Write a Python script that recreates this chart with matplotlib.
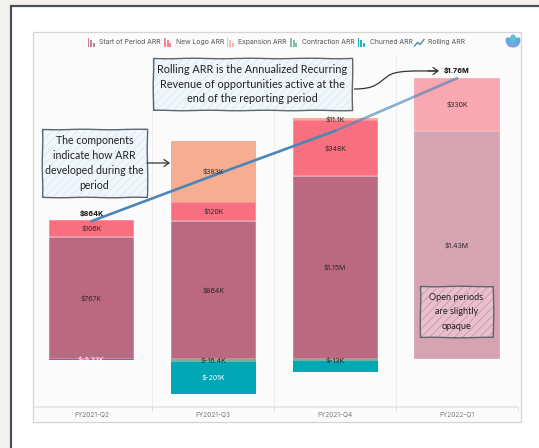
import matplotlib
matplotlib.use("Agg")
import matplotlib.pyplot as plt
from matplotlib.patches import Rectangle, Ellipse, FancyArrowPatch
from matplotlib.path import Path
from matplotlib.patches import PathPatch

W, H = 539, 448

# values in $K
periods = ["FY2021-Q2", "FY2021-Q3", "FY2021-Q4", "FY2022-Q1"]
start_arr = [767, 864, 1150, 1430]
new_logo = [106, 120, 348, 330]
expansion = [0, 383, 11.1, 0]
contraction = [-9.33, -16.4, -13, 0]
churned = [0, -201, -69, 0]
rolling = [864, 1150, 1430, 1760]

start_labels = ["$767K", "$864K", "$1.15M", "$1.43M"]
new_labels = ["$106K", "$120K", "$348K", "$330K"]
exp_labels = ["", "$383K", "$11.1K", ""]
con_labels = ["$-9.33K", "$-16.4K", "$-13K", ""]
chu_labels = ["", "$-201K", "", ""]
roll_labels = ["$864K", "", "", "$1.76M"]

legend_names = ["Start of Period ARR", "New Logo ARR", "Expansion ARR", "Contraction ARR", "Churned ARR"]
legend_colors = ["#bc6880", "#f8707f", "#f6ad90", "#6fb3a0", "#00a8b5"]
legend_icon_x = [87.5, 164, 226.5, 290, 357.5]
legend_text_x = [99, 176, 238.5, 301.5, 369.5]

UI = "Inter"
HAND = "Lato"

plt.rcParams["hatch.linewidth"] = 0.5
fig = plt.figure(figsize=(W / 100, H / 100), dpi=100, facecolor="#f2f1ed")


def px_axes(x0, y0, x1, y1, **kw):
    return fig.add_axes([x0 / W, 1 - y1 / H, (x1 - x0) / W, (y1 - y0) / H], **kw)


# page furniture, in pixels
bg = px_axes(0, 0, W, H)
bg.set_xlim(0, W)
bg.set_ylim(H, 0)
bg.axis("off")
bg.add_patch(Rectangle((10.5, 6.5), 540, 460, fc="white", ec="#4a4f57", lw=1.6))
bg.add_patch(Rectangle((33, 32.5), 488, 389.5, fc="#fbfbfb", ec="#d4d4d4", lw=0.9))

# chart
ax = px_axes(33, 57, 518, 407)
ax.patch.set_alpha(0)
ax.set_xlim(-0.48, 3.5)
ax.set_ylim(-301, 1893)
for s in ["top", "left", "right"]:
    ax.spines[s].set_visible(False)
ax.spines["bottom"].set_color("#e4e4e4")
ax.spines["bottom"].set_linewidth(1.2)
ax.set_yticks([])
ax.set_xticks(range(4))
ax.set_xticklabels(periods, fontsize=4.7, color="#777777", family=UI)
ax.tick_params(axis="x", length=0, pad=3.5)
for b in [0.5, 1.5, 2.5, 3.5]:
    ax.axvline(b, color="#ececec", lw=0.7, zorder=0)
    ax.plot([b, b], [-301, -318], color="#dddddd", lw=0.7, clip_on=False)

w = 0.7
for i in range(4):
    a = 0.6 if i == 3 else 1
    kw = dict(width=w, alpha=a, linewidth=0, zorder=2)
    sep = dict(width=w, alpha=a, linewidth=0.35, edgecolor="#fbfbfb", zorder=2)
    ax.bar(i, start_arr[i], color=legend_colors[0], **sep)
    ax.bar(i, new_logo[i], bottom=start_arr[i], color=legend_colors[1], **sep)
    ax.bar(i, expansion[i], bottom=start_arr[i] + new_logo[i], color=legend_colors[2], **kw)
    ax.bar(i, contraction[i], color=legend_colors[3] if i else legend_colors[4], **kw)
    ax.bar(i, churned[i], bottom=contraction[i], color=legend_colors[4], **kw)

    lab = dict(ha="center", va="center", fontsize=5.0, family=UI, zorder=5)
    ax.text(i, start_arr[i] / 2, start_labels[i], color="#2b2b2b", **lab)
    ax.text(i, start_arr[i] + new_logo[i] / 2, new_labels[i], color="#2b2b2b", **lab)
    if exp_labels[i]:
        ax.text(i, start_arr[i] + new_logo[i] + expansion[i] / 2, exp_labels[i], color="#2b2b2b", **lab)
    if con_labels[i]:
        ax.text(i, contraction[i] / 2, con_labels[i], color="white" if i == 0 else "#2b2b2b", **lab)
    if chu_labels[i]:
        ax.text(i, contraction[i] + churned[i] / 2, chu_labels[i], color="white", **lab)
    if roll_labels[i]:
        ax.annotate(roll_labels[i], (i, rolling[i]), xytext=(0, 5.2), textcoords="offset points",
                    ha="center", va="center", fontsize=5.2, fontweight="bold", color="#111111",
                    family=UI, zorder=6)

ax.plot(range(3), rolling[:3], color="#4a86b8", lw=1.9, zorder=4, solid_capstyle="round")
ax.plot([2, 3], rolling[2:], color="#4a86b8", alpha=0.65, lw=1.9, zorder=4, solid_capstyle="round")

# legend and logo
top = px_axes(0, 0, W, H)
top.patch.set_alpha(0)
top.set_xlim(0, W)
top.set_ylim(H, 0)
top.axis("off")
for name, c, ix, tx in zip(legend_names, legend_colors, legend_icon_x, legend_text_x):
    for dx, bot, ht in [(0, 47, 9), (2.7, 47, 7), (5.3, 47, 3.5)]:
        top.add_patch(Rectangle((ix + dx, bot - ht), 1.9, ht, fc=c, ec="none", alpha=0.85))
    top.text(tx, 42.2, name, fontsize=4.9, color="#555555", va="center", family=UI)
top.plot([414.5, 417.5, 420, 424], [46, 42.5, 44.5, 39.5], color="#4a86b8", lw=1)
top.text(427.5, 42.2, "Rolling ARR", fontsize=4.9, color="#555555", va="center", family=UI)

for x, y, ww, hh, ang, c in [(509, 42, 6, 10, -25, "#5f9fe0"), (517, 42, 6, 10, 25, "#5f9fe0"),
                             (513, 40.5, 7, 12, 0, "#55bcd6"), (513, 45, 10, 5, 0, "#7f9fe6")]:
    top.add_patch(Ellipse((x, y), ww, hh, angle=ang, fc=c, ec="none", alpha=0.95))


def note(x0, y0, x1, y1, lines, fc, hatch_c, size):
    top.add_patch(Rectangle((x0, y0), x1 - x0, y1 - y0, fc=fc, ec=hatch_c, lw=0, hatch="////", zorder=7))
    box = Rectangle((x0, y0), x1 - x0, y1 - y0, fc="none", ec="#60656b", lw=1.0, zorder=8)
    box.set_sketch_params(0.25, 60, 2)
    top.add_patch(box)
    step = (y1 - y0 - 8) / len(lines)
    for n, s in enumerate(lines):
        top.text((x0 + x1) / 2, y0 + 4 + step * (n + 0.5), s, ha="center", va="center",
                 fontsize=size, color="#222222", family=HAND, zorder=9)


note(152.5, 58, 352, 110, ["Rolling ARR is the Annualized Recurring",
                           "Revenue of opportunities active at the",
                           "end of the reporting period"], "#f0f6fb", "#d6e5f3", 7.8)
note(42, 129, 146.5, 197, ["The components", "indicate how ARR", "developed during the", "period"],
     "#f0f6fb", "#d6e5f3", 7.6)
note(420, 286, 492.5, 337.5, ["Open periods", "are slightly", "opaque"], "#e8c0cc", "#c98ea2", 6.6)

arrow_kw = dict(arrowstyle="->,head_length=3.5,head_width=2.5", color="#333333", lw=0.9, zorder=9)
top.add_patch(FancyArrowPatch((147, 163), (170, 163), shrinkA=0, shrinkB=0, **arrow_kw))
curve = Path([(354, 89), (376, 89), (378, 83), (388, 76), (396, 70), (415, 71), (438, 71)],
             [Path.MOVETO, Path.CURVE4, Path.CURVE4, Path.CURVE4, Path.CURVE4, Path.CURVE4, Path.CURVE4])
top.add_patch(PathPatch(curve, fc="none", ec="#333333", lw=0.9, zorder=9))
top.add_patch(FancyArrowPatch((428, 71), (439, 71), shrinkA=0, shrinkB=0, **arrow_kw))

fig.savefig("out.png", dpi=100, facecolor=fig.get_facecolor())
